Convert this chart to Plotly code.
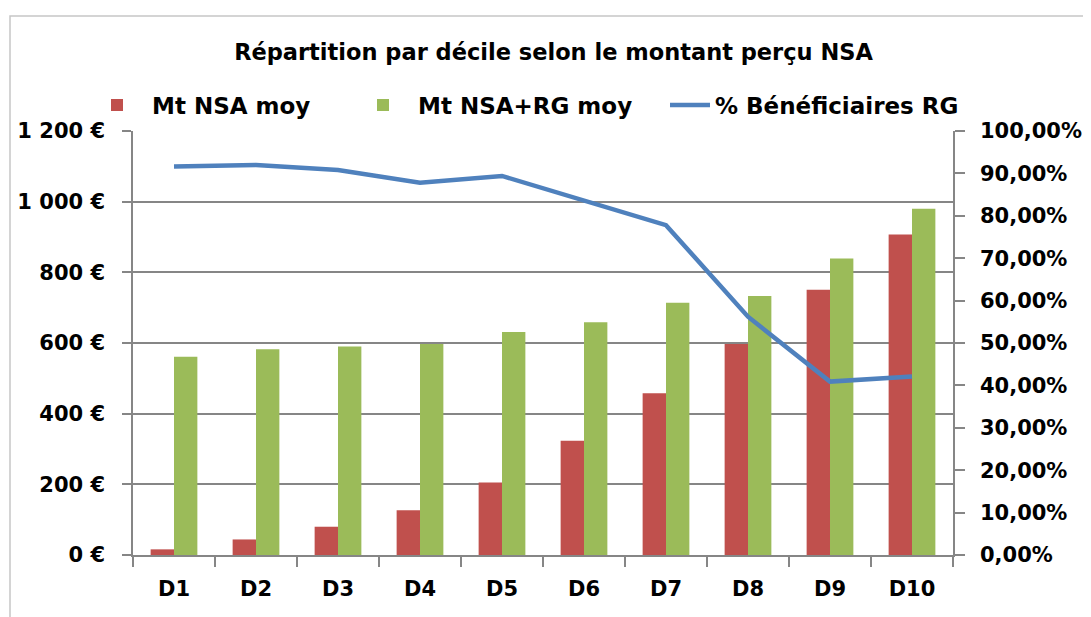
import plotly.graph_objects as go

categories = ["D1", "D2", "D3", "D4", "D5", "D6", "D7", "D8", "D9", "D10"]
mt_nsa_moy = [16, 44, 80, 127, 205, 323, 458, 597, 751, 907]
mt_nsa_rg_moy = [561, 582, 590, 597, 631, 659, 714, 733, 839, 980]
pct_benef_rg = [0.916, 0.920, 0.908, 0.878, 0.894, 0.837, 0.778, 0.562, 0.409, 0.421]

series_names = ["Mt NSA moy", "Mt NSA+RG moy", "% Bénéficiaires RG"]
title_text = "<b>Répartition par décile selon le montant perçu NSA</b>"

RED = "#C0504D"
GREEN = "#9BBB59"
BLUE = "#4F81BD"
AXIS = "#868686"
FONT = "DejaVu Sans"
W, H = 1083, 609          # page body has an 8px margin
L, R, T, B = 125, 138, 123, 62
PW, PH = W - L - R, H - T - B


def px(xp):
    return (xp - 8 - L) / PW


fig = go.Figure()
fig.add_trace(go.Bar(x=categories, y=mt_nsa_moy, name=series_names[0],
                     legend="legend",
                     marker=dict(color=RED, line=dict(width=0))))
fig.add_trace(go.Bar(x=categories, y=mt_nsa_rg_moy, name=series_names[1],
                     legend="legend2",
                     marker=dict(color=GREEN, line=dict(width=0))))
fig.add_trace(go.Scatter(x=categories, y=pct_benef_rg, name=series_names[2],
                         mode="lines", yaxis="y2", legend="legend3",
                         line=dict(color=BLUE, width=4.5)))

leg_y = 1 - (105 - 8) / H
leg_font = dict(family=FONT, size=23, color="#000000", weight="bold")


def leg(x, iw):
    return dict(orientation="h", x=x, xref="paper", xanchor="left",
                y=leg_y, yref="container", yanchor="middle",
                font=leg_font, bgcolor="rgba(0,0,0,0)", itemwidth=iw)


tick_font = dict(family=FONT, size=21, color="#000000", weight="bold")

fig.update_layout(
    width=W, height=H,
    margin=dict(l=L, r=R, t=T, b=B, autoexpand=False),
    paper_bgcolor="white", plot_bgcolor="white",
    separators=", ",
    barmode="group", bargap=0.43, bargroupgap=0,
    font=dict(family=FONT, size=20, color="#000000"),
    title=dict(text=title_text, x=px(553.5), xref="paper", xanchor="center",
               y=1 - (52 - 8) / H, yref="container", yanchor="middle",
               font=dict(family=FONT, size=22.5, color="#000000")),
    showlegend=True,
    legend=leg(px(82), 60),
    legend2=leg(px(348), 60),
    legend3=leg(px(665), 40),
    xaxis=dict(type="category", showline=True, linecolor=AXIS, linewidth=1.5,
               ticks="outside", tickson="boundaries", ticklen=10, tickcolor=AXIS,
               tickwidth=1.5, showgrid=False, tickfont=tick_font,
               ticklabelstandoff=14),
    yaxis=dict(range=[0, 1200], dtick=200, tick0=0, tickformat=",.0f",
               ticksuffix=" €", showline=True, linecolor=AXIS, linewidth=1.5,
               ticks="outside", ticklen=9, tickcolor=AXIS, tickwidth=1.5,
               showgrid=True, gridcolor=AXIS, gridwidth=1.5, zeroline=False,
               tickfont=tick_font, ticklabelstandoff=13),
    yaxis2=dict(range=[0, 1], dtick=0.1, tick0=0, tickformat=".2%",
                overlaying="y", side="right", showline=True, linecolor=AXIS,
                linewidth=1.5, ticks="outside", ticklen=10, tickcolor=AXIS,
                tickwidth=1.5, showgrid=False, zeroline=False,
                tickfont=tick_font, ticklabelstandoff=11),
    shapes=[
        dict(type="rect", xref="paper", yref="paper",
             x0=px(10), x1=1.3, y0=-0.3, y1=(H - B - (16 - 8)) / PH,
             line=dict(color="#c6c6c6", width=1.5), fillcolor="rgba(0,0,0,0)",
             layer="below"),
    ],
)

fig.write_html("out.html")
